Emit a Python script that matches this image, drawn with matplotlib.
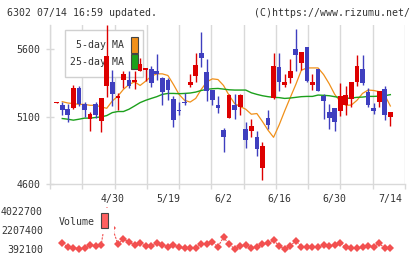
import numpy as np
import matplotlib
matplotlib.use('Agg')
import matplotlib.pyplot as plt
from matplotlib.patches import Rectangle

# ---- data ----
opens = [5200, 5185, 5154, 5161, 5313, 5190, 5080, 5190, 5068, 5325,
         5354, 5237, 5369, 5374, 5354, 5435, 5442, 5453, 5435, 5382,
         5374, 5227, 5151, 5205, 5337, 5398, 5573, 5433, 5296, 5183,
         4999, 5087, 5183, 5168, 5007, 4992, 4946, 4720, 5088, 5240,
         5467, 5330, 5387, 5602, 5497, 5614, 5332, 5455, 5251, 5137,
         5161, 5141, 5183, 5227, 5354, 5455, 5279, 5161, 5207, 5301,
         5097]
highs = [5206, 5210, 5190, 5337, 5324, 5210, 5137, 5207, 5234, 5778,
         5442, 5271, 5440, 5440, 5440, 5530, 5457, 5472, 5565, 5394,
         5387, 5251, 5208, 5276, 5418, 5572, 5725, 5523, 5296, 5251,
         5016, 5264, 5264, 5268, 5063, 5078, 4990, 4914, 5146, 5572,
         5572, 5418, 5528, 5750, 5578, 5614, 5414, 5455, 5270, 5190,
         5161, 5349, 5327, 5359, 5558, 5558, 5313, 5200, 5286, 5325,
         5134]
lows = [5200, 5112, 5056, 5154, 5175, 5097, 4995, 5092, 4982, 5242,
        5178, 5148, 5311, 5310, 5306, 5435, 5362, 5318, 5374, 5185,
        5222, 5019, 5112, 5183, 5315, 5352, 5465, 5215, 5183, 5126,
        4840, 5087, 5083, 5114, 4870, 4948, 4811, 4628, 5007, 5229,
        5291, 5315, 5345, 5440, 5448, 5358, 5295, 5288, 5085, 5010,
        4995, 5105, 5114, 5168, 5325, 5337, 5168, 5117, 5168, 5073,
        5031]
closes = [5206, 5148, 5112, 5308, 5190, 5148, 5122, 5112, 5234, 5551,
          5264, 5251, 5418, 5325, 5367, 5492, 5457, 5350, 5416, 5284,
          5296, 5075, 5141, 5198, 5359, 5484, 5531, 5288, 5222, 5163,
          4950, 5257, 5149, 5257, 4926, 5029, 4860, 4880, 5036, 5477,
          5354, 5359, 5440, 5553, 5578, 5362, 5352, 5288, 5215, 5088,
          5061, 5249, 5257, 5359, 5477, 5345, 5183, 5141, 5286, 5112,
          5134]

ma5 = [5210, 5200, 5196, 5190, 5190, 5183, 5183, 5171, 5161, 5215,
       5251, 5301, 5337, 5357, 5330, 5362, 5398, 5416, 5416, 5404,
       5337, 5264, 5220, 5207, 5234, 5301, 5357, 5379, 5374, 5330,
       5257, 5196, 5174, 5154, 5117, 5122, 5063, 4999, 4946, 5037,
       5141, 5240, 5337, 5443, 5460, 5460, 5460, 5411, 5343, 5264,
       5210, 5183, 5185, 5220, 5271, 5296, 5293, 5284, 5259, 5178]
ma25 = [5085, 5080, 5073, 5080, 5088, 5088, 5093, 5097, 5107, 5129,
        5137, 5137, 5154, 5178, 5203, 5220, 5234, 5247, 5264, 5271,
        5271, 5269, 5271, 5274, 5281, 5293, 5301, 5306, 5308, 5303,
        5298, 5296, 5296, 5296, 5276, 5264, 5254, 5247, 5242, 5240,
        5234, 5237, 5242, 5247, 5249, 5249, 5259, 5257, 5254, 5247,
        5240, 5234, 5237, 5242, 5244, 5249, 5249, 5251, 5254, 5262]

volume = [932000, 613000, 518000, 424000, 455000, 771000, 676000, 771000, 4022700, 2400000,
          866000, 1310000, 1090000, 742000, 932000, 676000, 676000, 932000, 771000, 613000,
          771000, 550000, 455000, 455000, 518000, 866000, 866000, 1020000, 613000, 1500000,
          866000, 392100, 676000, 771000, 455000, 613000, 866000, 932000, 1250000, 676000,
          392100, 676000, 1180000, 613000, 550000, 550000, 550000, 771000, 676000, 771000,
          932000, 550000, 455000, 455000, 550000, 676000, 613000, 932000, 455000, 455000]

date_idx = [10, 20, 30, 40, 50, 60]
date_labels = ['4/30', '5/19', '6/2', '6/16', '6/30', '7/14']
price_ticks = [4600, 5100, 5600]
vol_ticks = [392100, 2207400, 4022700]

RED = '#dd0000'
BLUE = '#3f3fbf'
ORANGE = '#f0901a'
GREEN = '#1ca01c'
GRID = '#d9d9d9'
TXT = '#333333'
FONT = 'DejaVu Sans Mono'
FS = 7.1

W, H = 420, 259
fig = plt.figure(figsize=(W / 100, H / 100), dpi=100)

def fig_box(l, t, r, b):
    return [l / W, 1 - b / H, (r - l) / W, (b - t) / H]

# ---- price panel ----
ax = fig.add_axes(fig_box(50, 25, 405, 184))
x0, x1 = -1.205, 62.64
ax.set_xlim(x0, x1)
ax.set_ylim(4600, 5778)
n = len(opens)

for i in range(n):
    up = closes[i] >= opens[i]
    c = RED if up else BLUE
    ax.vlines(i, lows[i], highs[i], color=c, lw=1.0, zorder=5)
    bot = min(opens[i], closes[i])
    h = max(abs(closes[i] - opens[i]), 9)
    ax.bar(i, h, bottom=bot, width=0.85, color=c, lw=0, zorder=6)

mx = np.arange(1, 61)
ax.plot(mx, ma5, color=ORANGE, lw=0.9, zorder=3)
ax.plot(mx, ma25, color=GREEN, lw=1.0, zorder=3)

grid_pos = np.linspace(x0, x1, 12)
ax.set_xticks(grid_pos, labels=[])
ax.xaxis.grid(True, color=GRID, lw=1.0, zorder=0)
ax.set_axisbelow(True)
ax.tick_params(axis='x', which='major', direction='out', length=3.6, color=GRID, width=1.0)
ax.set_xticks(date_idx, labels=date_labels, minor=True)
ax.tick_params(axis='x', which='minor', length=0, pad=7.5, labelsize=FS, labelcolor=TXT)
for lab in ax.get_xticklabels(minor=True):
    lab.set_fontfamily(FONT)

ax.set_yticks(price_ticks, labels=[str(v) for v in price_ticks])
ax.tick_params(axis='y', direction='inout', length=6, color=GRID, width=1.0,
               pad=4, labelsize=FS, labelcolor=TXT)
for lab in ax.get_yticklabels():
    lab.set_fontfamily(FONT)

for s in ['top', 'right']:
    ax.spines[s].set_visible(False)
for s in ['left', 'bottom']:
    ax.spines[s].set_color(GRID)
    ax.spines[s].set_linewidth(1.0)

def ax_box(l, t, r, b, top, bottom):
    # pixel box -> axes fraction, for an axes spanning pixel rows top..bottom
    h = bottom - top
    return (l - 50) / 355, (bottom - b) / h, (r - l) / 355, (b - t) / h

# legend of moving averages
bx, by, bw, bh = ax_box(65, 30, 143.3, 77.3, 25, 184)
ax.add_patch(Rectangle((bx, by), bw, bh, transform=ax.transAxes, facecolor='white',
                       edgecolor='#d0d0d0', lw=1.0, zorder=2))
for label, col, t, b in [('5-day MA', ORANGE, 37.3, 52.7), ('25-day MA', GREEN, 54.3, 69.3)]:
    rx, ry, rw, rh = ax_box(131, t, 137.7, b, 25, 184)
    ax.add_patch(Rectangle((rx, ry), rw, rh, transform=ax.transAxes, facecolor=col,
                           edgecolor='#444444', lw=0.8, zorder=4))
    ax.text((124 - 50) / 355, (184 - (t + b) / 2) / 159, label, transform=ax.transAxes,
            ha='right', va='center', fontsize=FS, family=FONT, color=TXT, zorder=4)

# ---- volume panel ----
av = fig.add_axes(fig_box(50, 210.7, 405, 249))
av.set_xlim(x0, x1)
av.set_ylim(392100, 4022700)
av.plot(mx, volume, color='#f25050', lw=0.8, ls=(0, (2, 1)), marker='D', ms=3.8,
        markeredgewidth=0, clip_on=False, zorder=3)
av.set_xticks([])
av.set_yticks(vol_ticks, labels=[str(v) for v in vol_ticks])
av.tick_params(axis='y', length=0, pad=5, labelsize=FS, labelcolor=TXT)
for lab in av.get_yticklabels():
    lab.set_fontfamily(FONT)
for s in av.spines.values():
    s.set_visible(False)
av.patch.set_alpha(0)

vx, vy, vw, vh = ax_box(55, 208, 114, 233.5, 210.7, 249)
av.add_patch(Rectangle((vx, vy), vw, vh, transform=av.transAxes, facecolor='white',
                       lw=0, zorder=4, clip_on=False))
rx, ry, rw, rh = ax_box(101, 213, 107.7, 228, 210.7, 249)
av.add_patch(Rectangle((rx, ry), rw, rh, transform=av.transAxes, facecolor='#ff6060',
                       edgecolor='#444444', lw=0.8, zorder=5, clip_on=False))
av.text((95 - 50) / 355, (249 - 222) / 38.3, 'Volume', transform=av.transAxes,
        ha='right', va='center', fontsize=FS, family=FONT, color=TXT, zorder=5)

# ---- header ----
fig.text(7 / W, 1 - 13 / H, '6302 07/14 16:59 updated.', ha='left', va='center',
         fontsize=FS, family=FONT, color=TXT)
fig.text(410 / W, 1 - 13 / H, '(C)https://www.rizumu.net/', ha='right', va='center',
         fontsize=FS, family=FONT, color=TXT)

fig.savefig('out.png', dpi=100)
